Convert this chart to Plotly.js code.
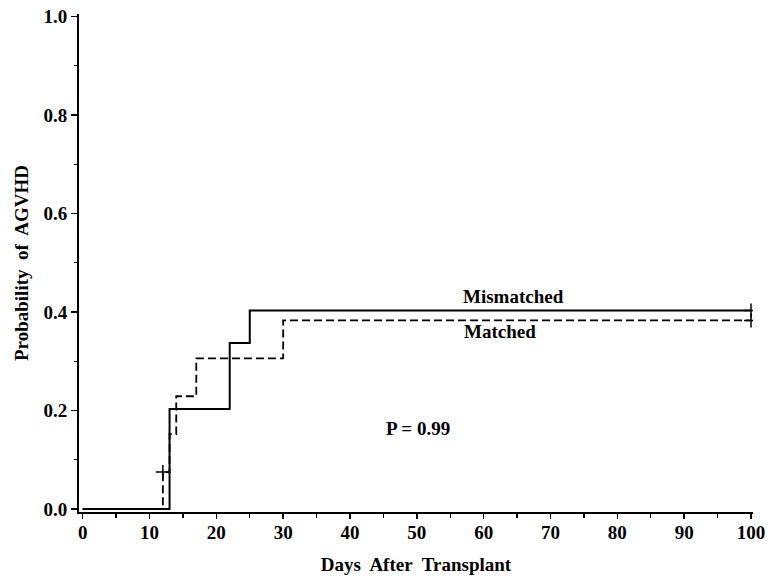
<!DOCTYPE html>
<html>
<head>
<meta charset="utf-8">
<script src="https://cdn.plot.ly/plotly-3.0.1.min.js"></script>
<style>html,body{margin:0;padding:0;background:#fff;}#chart{width:767px;height:579px;}</style>
</head>
<body>
<div id="chart"></div>
<script>
// Data
const mismatchedDays = [0, 13, 22, 25, 100];
const mismatchedProb = [0, 0.203, 0.337, 0.403, 0.403];
const matchedDays = [0, 12, 13, 14, 17, 30, 100];
const matchedProb = [0, 0.075, 0.152, 0.229, 0.306, 0.383, 0.383];
const censorDays = [12, 100, 100];
const censorProb = [0.075, 0.383, 0.403];
const xTicks = [0, 10, 20, 30, 40, 50, 60, 70, 80, 90, 100];
const yTicks = [0.0, 0.2, 0.4, 0.6, 0.8, 1.0];
const yTickLabels = ['0.0', '0.2', '0.4', '0.6', '0.8', '1.0'];
const labels = ['Mismatched', 'Matched', 'P = 0.99'];
const labelDays = [64.5, 62.4, 50.1];
const labelProb = [0.432, 0.361, 0.164];

const FONT = 'Liberation Serif, Times New Roman, serif';

const traces = [
  {x: mismatchedDays, y: mismatchedProb, mode: 'lines', line: {shape: 'hv', color: '#000', width: 2}, name: 'Mismatched', hoverinfo: 'skip'},
  {x: matchedDays, y: matchedProb, mode: 'lines', line: {shape: 'hv', color: '#000', width: 1.8, dash: '8px,4px'}, name: 'Matched', hoverinfo: 'skip'},
  {x: censorDays, y: censorProb, mode: 'markers', marker: {symbol: 'cross-thin', size: 10, line: {color: '#000', width: 1.5}}, hoverinfo: 'skip'}
];

const annotations = labels.map((t, i) => ({
  x: labelDays[i], y: labelProb[i], xref: 'x', yref: 'y', text: t, showarrow: false,
  font: {family: FONT, size: 19, color: '#000', weight: 'bold'}
}));

const layout = {
  width: 767, height: 579,
  margin: {l: 79, r: 14, t: 14, b: 67},
  paper_bgcolor: '#fff', plot_bgcolor: '#fff',
  showlegend: false,
  font: {family: FONT, color: '#000', weight: 'bold'},
  xaxis: {
    range: [-0.55, 100.3], tickvals: xTicks, ticktext: xTicks.map(String),
    ticks: 'outside', ticklen: 5, tickwidth: 1.5, tickcolor: '#000', ticklabelstandoff: -3,
    minor: {dtick: 5, tick0: 5, ticks: 'outside', ticklen: 4, tickwidth: 1.2, tickcolor: '#000', showgrid: false},
    showline: true, linecolor: '#000', linewidth: 2, showgrid: false, zeroline: false,
    tickfont: {family: FONT, size: 19, color: '#000', weight: 'bold'},
    title: {text: 'Days\u00a0 After\u00a0 Transplant', font: {family: FONT, size: 19, color: '#000', weight: 'bold'}, standoff: 16}
  },
  yaxis: {
    range: [-0.006, 1.005], tickvals: yTicks, ticktext: yTickLabels,
    ticks: 'outside', ticklen: 6, tickwidth: 1.5, tickcolor: '#000',
    minor: {dtick: 0.1, tick0: 0.1, ticks: 'outside', ticklen: 3, tickwidth: 1.2, tickcolor: '#000', showgrid: false},
    showline: true, linecolor: '#000', linewidth: 2, showgrid: false, zeroline: false,
    tickfont: {family: FONT, size: 19, color: '#000', weight: 'bold'},
    title: {text: 'Probability\u00a0 of\u00a0 AGVHD', font: {family: FONT, size: 19, color: '#000', weight: 'bold'}, standoff: 10}
  },
  annotations: annotations
};

Plotly.newPlot('chart', traces, layout, {displayModeBar: false, staticPlot: true});
</script>
</body>
</html>
